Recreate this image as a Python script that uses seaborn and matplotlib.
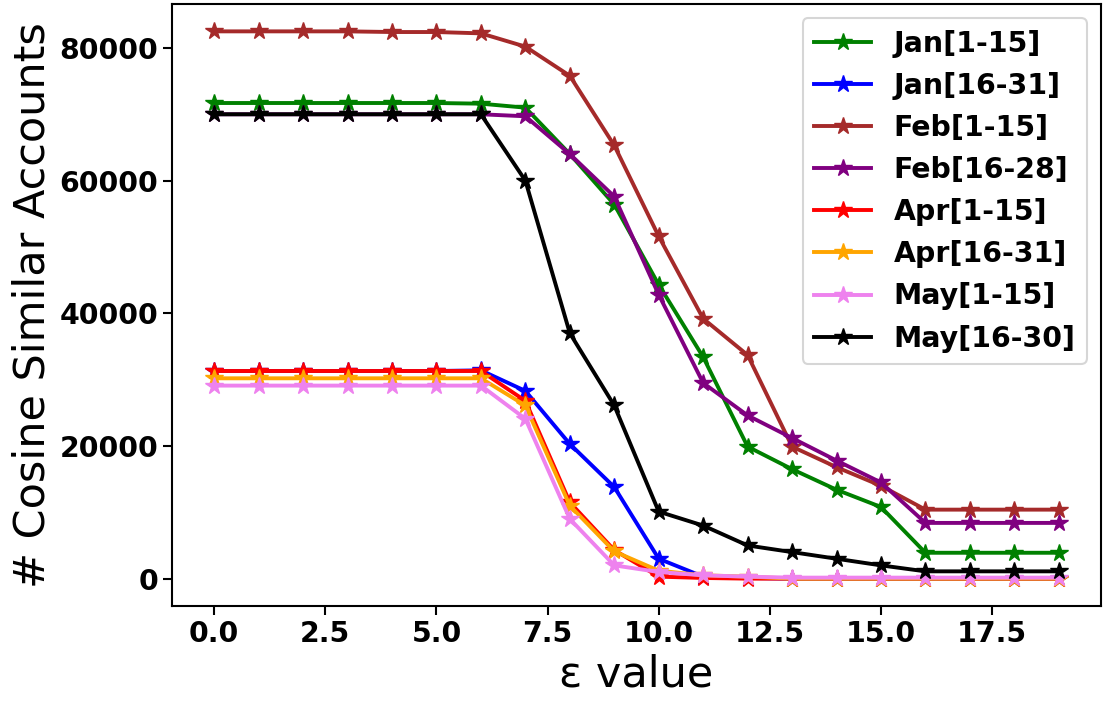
import numpy as np
import pandas as pd
import matplotlib
matplotlib.use("Agg")
import matplotlib.pyplot as plt
import seaborn as sns

eps = list(range(20))

jan_1_15 = [71700, 71700, 71700, 71700, 71700, 71700, 71600, 71000, 64000, 56400,
            44300, 33400, 19900, 16500, 13400, 10800, 3900, 3900, 3900, 3900]
jan_16_31 = [31300, 31300, 31300, 31300, 31300, 31300, 31400, 28300, 20300, 13800,
             3000, 300, 100, 0, 0, 0, 0, 0, 0, 0]
feb_1_15 = [82500, 82500, 82500, 82500, 82400, 82400, 82200, 80200, 75800, 65300,
            51600, 39200, 33700, 19900, 16800, 14000, 10400, 10400, 10400, 10400]
feb_16_28 = [70000, 70000, 70000, 70000, 70000, 70000, 70000, 69700, 64000, 57600,
             42800, 29500, 24600, 21200, 17800, 14500, 8400, 8400, 8400, 8400]
apr_1_15 = [31300, 31300, 31300, 31300, 31300, 31300, 31300, 26800, 11500, 4300,
            300, 100, 0, 0, 0, 0, 0, 0, 0, 0]
apr_16_31 = [30200, 30200, 30200, 30200, 30200, 30200, 30200, 26100, 11000, 4100,
             1200, 500, 300, 0, 0, 0, 0, 0, 0, 0]
may_1_15 = [29100, 29100, 29100, 29100, 29100, 29100, 29100, 24100, 9000, 2000,
            1000, 500, 300, 150, 150, 150, 150, 150, 150, 150]
may_16_30 = [70000, 70000, 70000, 70000, 70000, 70000, 70000, 60000, 37000, 26100,
             10100, 8000, 5000, 4000, 3000, 2000, 1100, 1100, 1100, 1100]

labels = ["Jan[1-15]", "Jan[16-31]", "Feb[1-15]", "Feb[16-28]",
          "Apr[1-15]", "Apr[16-31]", "May[1-15]", "May[16-30]"]
colors = ["green", "blue", "brown", "purple", "red", "orange", "violet", "black"]
series = [jan_1_15, jan_16_31, feb_1_15, feb_16_28,
          apr_1_15, apr_16_31, may_1_15, may_16_30]

fig = plt.figure(figsize=(11.05, 7.03), dpi=100)
ax = fig.add_axes([172 / 1105, 1 - 606 / 703, (1101 - 172) / 1105, (606 - 4) / 703])

for name, col, vals in zip(labels, colors, series):
    df = pd.DataFrame({"eps": eps, "count": vals})
    sns.lineplot(data=df, x="eps", y="count", ax=ax, color=col, label=name,
                 marker="*", markersize=13, linewidth=2.8,
                 markeredgecolor=col, markerfacecolor=col, markeredgewidth=1)

ax.set_xlabel("ε value", fontsize=31)
ax.set_ylabel("# Cosine Similar Accounts", fontsize=31)
ax.tick_params(axis="both", labelsize=20.4, length=6.5, width=1.5)
for lab in ax.get_xticklabels() + ax.get_yticklabels():
    lab.set_fontweight("bold")
for spine in ax.spines.values():
    spine.set_linewidth(1.5)

leg = ax.legend(loc="upper right", prop={"size": 20.4, "weight": "bold"})
leg.get_frame().set_linewidth(1.5)

fig.savefig("out.png", dpi=100)
